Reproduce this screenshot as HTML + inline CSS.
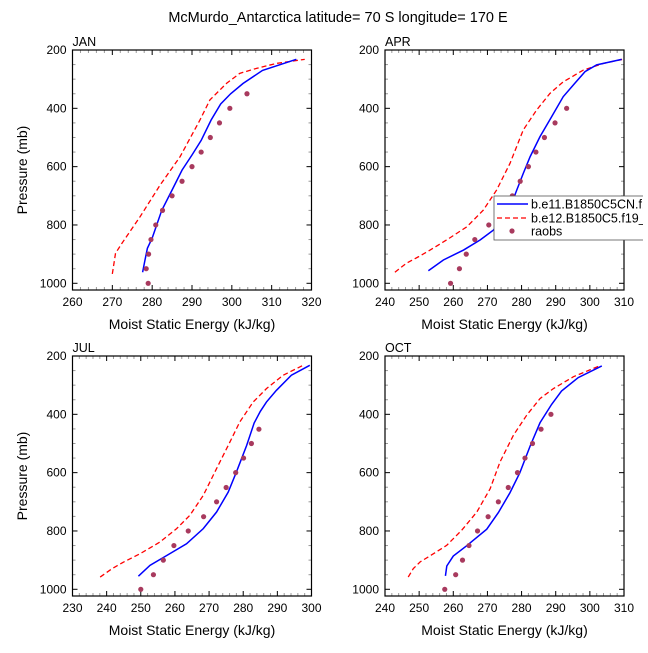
<!DOCTYPE html>
<html><head><meta charset="utf-8"><style>
body{margin:0;background:#fff;}
svg text{font-family:"Liberation Sans",sans-serif;fill:#000;}
</style></head><body>
<svg id="chart" width="648" height="648" viewBox="0 0 648 648" xmlns="http://www.w3.org/2000/svg">
<defs><clipPath id="lgclip"><rect x="490" y="190" width="153" height="60"/></clipPath></defs>
<text x="338" y="22" font-size="14.5" text-anchor="middle">McMurdo_Antarctica  latitude= 70 S longitude= 170 E</text>
</svg>
<script>
const panelNames = ["JAN","APR","JUL","OCT"];
const xMins = [260,240,230,240];
const xMaxs = [320,310,300,310];
const blueJAN = [[277.6,962],[278.2,920],[278.8,880],[280,845],[282.4,750],[285,680],[287.5,612],[290,560],[292.3,510],[294.8,440],[297.2,385],[299.7,350],[302.8,315],[307.7,270],[316.2,232]];
const redJAN = [[270,968],[270.8,897],[272.4,863],[277,771],[282,663],[287,566],[292,440],[294.5,371],[298.7,314],[302,280],[306.2,263],[311.2,246],[318.3,232]];
const obsJAN = [[279,1000],[278.5,950],[279.1,900],[279.7,850],[280.9,800],[282.6,750],[285,700],[287.5,650],[290,600],[292.3,550],[294.6,500],[296.9,450],[299.5,400],[303.8,350]];
const blueAPR = [[252.7,957],[257.1,920],[263,886],[267.9,851],[271.8,817],[274.7,771],[277.1,726],[278.6,680],[280.5,623],[282.5,566],[285.4,497],[288.8,429],[292.2,360],[295.6,314],[298.6,274],[302,251],[309.3,232]];
const redAPR = [[242.9,962],[246.3,931],[249.8,909],[253.2,886],[258.1,851],[264,806],[268.8,749],[272.7,680],[276.6,589],[280.5,474],[284.4,406],[288.3,349],[292.2,309],[298.1,269],[304,246],[309.6,232]];
const obsAPR = [[259.2,1000],[261.8,950],[263.8,900],[266.3,850],[270.4,800],[274.4,750],[277.3,700],[279.6,650],[282,600],[284.2,550],[286.7,500],[289.8,450],[293.2,400]];
const blueJUL = [[249.3,955],[252.7,918],[257.6,884],[263.4,844],[268.3,792],[272.2,735],[275.6,667],[278,598],[281,507],[283.2,430],[285,390],[286.8,358],[289.7,318],[294.1,266],[299.5,232]];
const redJUL = [[238.1,958],[241.5,930],[244.9,907],[249.8,878],[255.6,838],[260.5,792],[264.4,746],[268.3,678],[272.2,586],[276.1,495],[279,426],[282.9,358],[286.8,312],[291.7,266],[297.5,232]];
const obsJUL = [[250,1000],[253.7,950],[256.6,900],[259.7,850],[263.9,800],[268.4,751],[272.2,700],[275,651],[277.8,600],[280.1,550],[282.4,500],[284.6,451]];
const blueOCT = [[257.7,954],[258.1,920],[260,886],[263.9,851],[269.8,794],[273.2,737],[276.6,669],[279.5,600],[282.5,509],[285.4,429],[288.8,366],[291.7,320],[296.6,274],[303.5,234]];
const redOCT = [[246.8,958],[248.3,929],[250.3,906],[254.2,878],[258.1,849],[262.5,797],[266.9,735],[270.8,655],[273.7,563],[277.6,472],[281.5,403],[285.4,346],[289.3,312],[295.2,271],[302.8,234]];
const obsOCT = [[257.5,1000],[260.7,950],[262.7,900],[264.6,850],[267.1,800],[270.2,751],[273.2,700],[276.1,651],[278.8,600],[281,550],[283.2,500],[285.7,451],[288.6,400]];
const yTicks = [200,400,600,800,1000];
const legendLabels = ["b.e11.B1850C5CN.f19_g16","b.e12.B1850C5.f19_g16","raobs"];

const blues=[blueJAN,blueAPR,blueJUL,blueOCT], reds=[redJAN,redAPR,redJUL,redOCT], obs=[obsJAN,obsAPR,obsJUL,obsOCT];
const svg=document.getElementById('chart');
const NS="http://www.w3.org/2000/svg";
function mk(tag,attrs,parent){const e=document.createElementNS(NS,tag);for(const k in attrs)e.setAttribute(k,attrs[k]);(parent||svg).appendChild(e);return e;}
const lefts=[72.5,385,72.5,385], tops=[50,50,356,356], W=239, H=240, PMIN=200, PMAX=1023;
for(let i=0;i<4;i++){
  const L=lefts[i],T=tops[i];
  const xs=v=>L+(v-xMins[i])/(xMaxs[i]-xMins[i])*W;
  const ys=p=>T+(p-PMIN)/(PMAX-PMIN)*H;
  const g=mk('g',{});
  
  
  for(let v=xMins[i];v<=xMaxs[i];v+=2){const x=xs(v);const maj=(v%10===0);const len=maj?5:3;
    mk('line',{x1:x,y1:T+H,x2:x,y2:T+H-len,stroke:maj?'#000':'#999','stroke-width':1},g);
    mk('line',{x1:x,y1:T,x2:x,y2:T+len,stroke:maj?'#000':'#999','stroke-width':1},g);
    if(maj){const t=mk('text',{x:x,y:T+H+16,'font-size':12,'text-anchor':'middle'},g);t.textContent=v;
      
      }
  }
  for(let p=200;p<=1000;p+=50){const y=ys(p);const maj=yTicks.includes(p);const len=maj?5:3;
    mk('line',{x1:L,y1:y,x2:L+len,y2:y,stroke:maj?'#000':'#999','stroke-width':1},g);
    mk('line',{x1:L+W,y1:y,x2:L+W-len,y2:y,stroke:maj?'#000':'#999','stroke-width':1},g);
  }
  yTicks.forEach(p=>{const t=mk('text',{x:L-6,y:ys(p)+4,'font-size':12,'text-anchor':'end'},g);t.textContent=p;
    
    });
  mk('rect',{x:L,y:T,width:W,height:H,fill:'none',stroke:'#000','stroke-width':1.2},g);
  const pl=mk('text',{x:L,y:T-4,'font-size':12.5},g);pl.textContent=panelNames[i];
  
  
  const xt=mk('text',{x:L+W/2,y:T+H+39,'font-size':14,'text-anchor':'middle'},g);xt.textContent='Moist Static Energy (kJ/kg)';
  
  
  if(i%2===0){const yt=mk('text',{x:0,y:0,'font-size':14,'text-anchor':'middle',transform:`translate(27,${T+H/2}) rotate(-90)`},g);yt.textContent='Pressure (mb)';
    
    }
  const rp=mk('polyline',{points:reds[i].map(d=>xs(d[0])+','+ys(d[1])).join(' '),fill:'none',stroke:'#f00','stroke-width':1.3,'stroke-dasharray':'5,3'},g);
  
  
  const bp=mk('polyline',{points:blues[i].map(d=>xs(d[0])+','+ys(d[1])).join(' '),fill:'none',stroke:'#00f','stroke-width':1.5},g);
  
  
  obs[i].forEach(d=>{const c=mk('circle',{cx:xs(d[0]),cy:ys(d[1]),r:2.6,fill:'#a83a5e'},g);
    
    });
}
const lg=mk('g',{'clip-path':'url(#lgclip)'});


mk('rect',{x:494,y:196,width:160,height:44,fill:'#fff',stroke:'#555','stroke-width':0.8},lg);
const ly=[204,218,231];
mk('line',{x1:497,y1:ly[0],x2:528,y2:ly[0],stroke:'#00f','stroke-width':1.5},lg);
mk('line',{x1:497,y1:ly[1],x2:528,y2:ly[1],stroke:'#f00','stroke-width':1.3,'stroke-dasharray':'5,3'},lg);
mk('circle',{cx:512,cy:ly[2],r:2.6,fill:'#a83a5e'},lg);
legendLabels.forEach((s,k)=>{const t=mk('text',{x:531,y:ly[k]+4.5,'font-size':12.5},lg);t.textContent=s;
  
  });
</script>
</body></html>
